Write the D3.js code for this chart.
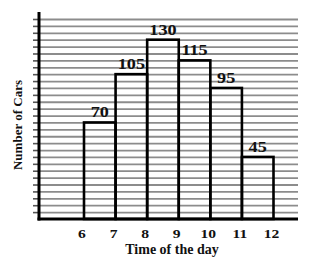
<!DOCTYPE html>
<html>
<head>
<meta charset="utf-8">
<script src="https://cdn.jsdelivr.net/npm/d3@7"></script>
<style>
  html, body { margin: 0; padding: 0; background: #fff; }
  svg { display: block; }
  text { font-family: "Liberation Serif", "Times New Roman", serif; font-weight: bold; fill: #111; }
</style>
</head>
<body>
<svg id="chart" width="329" height="264"></svg>
<script>
// Cars counted in each one-hour interval
const hourStarts = [6, 7, 8, 9, 10, 11];
const carCounts = [70, 105, 130, 115, 95, 45];
const hourTicks = [6, 7, 8, 9, 10, 11, 12];
const gridValues = d3.range(5, 150, 5);

const svg = d3.select("#chart");
const axisX = 39, baseY = 219, topY = 12, rightX = 298;

const x = d3.scaleLinear().domain([6, 12]).range([84, 273.5]);
const y = d3.scaleLinear().domain([0, 145]).range([baseY, 19]);

// Horizontal grid lines with short ticks left of the axis
const grid = svg.append("g").attr("transform", `translate(${axisX},0)`)
  .call(d3.axisLeft(y).tickValues(gridValues).tickSize(6).tickFormat(""));
grid.select(".domain").remove();
grid.selectAll(".tick line").attr("stroke", "#555").attr("stroke-width", 1.6);
grid.selectAll(".tick").append("line")
  .attr("x1", 0).attr("x2", rightX - axisX)
  .attr("stroke", "#8c8c8c").attr("stroke-width", 1.8);

// Bars: outlined columns, one per hour
svg.append("g").selectAll("rect")
  .data(hourStarts)
  .join("rect")
  .attr("x", (d) => x(d))
  .attr("width", (d) => x(d + 1) - x(d))
  .attr("y", (d, i) => y(carCounts[i]))
  .attr("height", (d, i) => baseY - y(carCounts[i]))
  .attr("fill", "none")
  .attr("stroke", "#000")
  .attr("stroke-width", 2.6);

// Value labels above each bar
svg.append("g").selectAll("text")
  .data(hourStarts)
  .join("text")
  .attr("transform", (d, i) => `translate(${x(d + 0.5)},${y(carCounts[i]) - 5}) scale(1.3,1)`)
  .attr("text-anchor", "middle")
  .attr("font-size", 14)
  .text((d, i) => carCounts[i]);

// Axes lines
svg.append("line").attr("x1", axisX).attr("x2", axisX).attr("y1", topY).attr("y2", baseY + 1.5)
  .attr("stroke", "#000").attr("stroke-width", 3);
svg.append("line").attr("x1", axisX - 1.5).attr("x2", rightX).attr("y1", baseY).attr("y2", baseY)
  .attr("stroke", "#000").attr("stroke-width", 3);

// Hour labels under the x axis
svg.append("g").selectAll("text")
  .data(hourTicks)
  .join("text")
  .attr("transform", (d) => `translate(${x(d) - 2},238) scale(1.25,1)`)
  .attr("text-anchor", "middle")
  .attr("font-size", 12.5)
  .text((d) => d);

// Axis titles
svg.append("text")
  .attr("x", 172).attr("y", 254)
  .attr("text-anchor", "middle")
  .attr("font-size", 14)
  .text("Time of the day");

svg.append("text")
  .attr("transform", "translate(22,125) rotate(-90)")
  .attr("text-anchor", "middle")
  .attr("font-size", 13)
  .text("Number of Cars");
</script>
</body>
</html>
